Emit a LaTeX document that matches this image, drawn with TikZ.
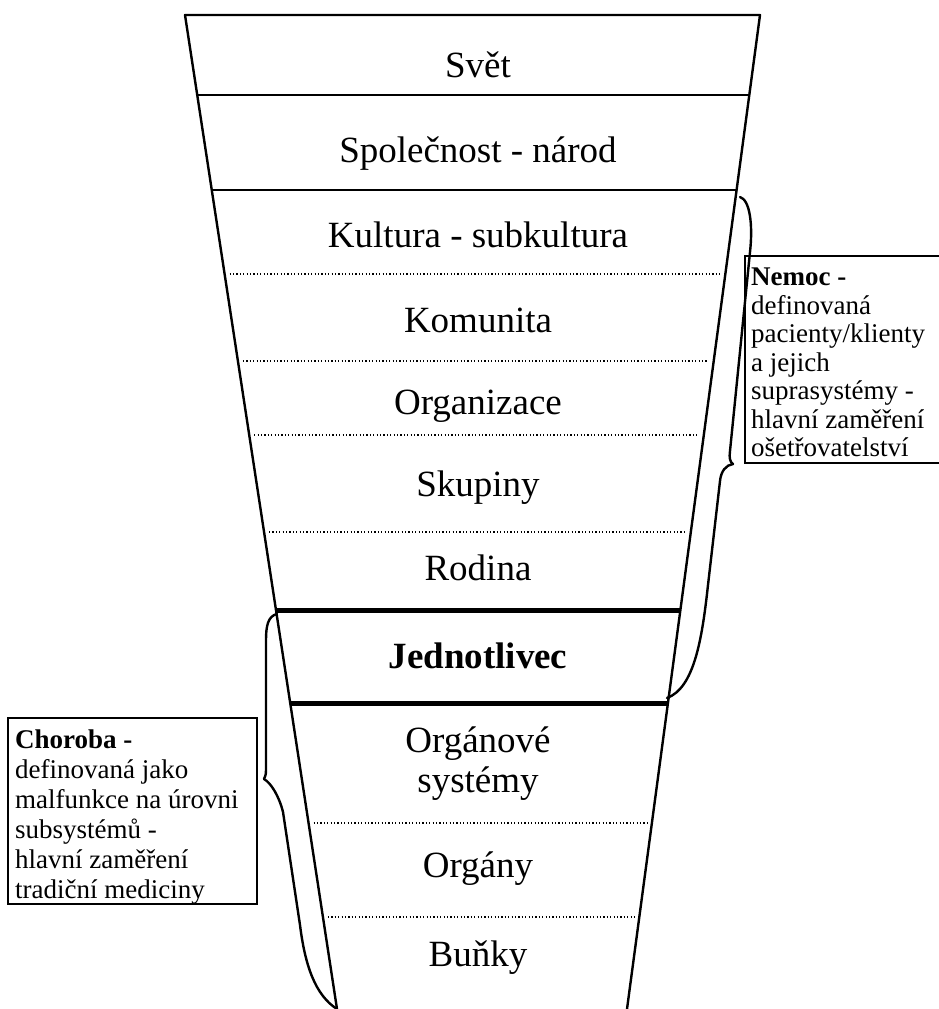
\documentclass[tikz,border=0pt]{standalone}
\usepackage{fontspec}
\setmainfont{Liberation Serif}
\usetikzlibrary{calc}
\begin{document}
\begin{tikzpicture}[x=1pt,y=-1pt,
  edge/.style={line width=2.4pt, line cap=round, line join=round},
  divider/.style={line width=2.4pt},
  heavy/.style={line width=5pt},
  dots/.style={line width=1.3pt, dash pattern=on 1.2pt off 2.2pt, shorten <=5pt, shorten >=5pt},
  lvl/.style={font=\fontsize{37}{40}\selectfont, anchor=base, inner sep=0pt},
  note/.style={align=left, anchor=north west, inner sep=0pt},
  brace/.style={line width=2.4pt, line cap=round, line join=round},
  box/.style={line width=1.5pt}]
\useasboundingbox (0,0) rectangle (939,1009);
\fill[white] (0,0) rectangle (939,1009);
% funnel
\coordinate (TL) at (185,15);
\coordinate (TR) at (760,15);
\coordinate (BL) at (337,1009);
\coordinate (BR) at (627,1009);
\foreach \n/\t in {a/0.0805, b/0.1761, c/0.2606, d/0.3481, e/0.4225, f/0.5201, g/0.5986, h/0.6922, i/0.8129, j/0.9074}{
  \coordinate (L\n) at ($(TL)!\t!(BL)$);
  \coordinate (R\n) at ($(TR)!\t!(BR)$);
}
\draw[edge] (BL) -- (TL) -- (TR) -- (BR);
\draw[divider] (La) -- (Ra);
\draw[divider] (Lb) -- (Rb);
\draw[dots] (Lc) -- (Rc);
\draw[dots] (Ld) -- (Rd);
\draw[dots] (Le) -- (Re);
\draw[dots] (Lf) -- (Rf);
\draw[heavy] (Lg) -- (Rg);
\draw[heavy] (Lh) -- (Rh);
\draw[dots] (Li) -- (Ri);
\draw[dots] (Lj) -- (Rj);
% level labels
\node[lvl] (svet) at (478,77) {Svět};
\node[lvl] (spol) at (478,162) {Společnost - národ};
\node[lvl] (kult) at (478,247) {Kultura - subkultura};
\node[lvl] (komu) at (478,332) {Komunita};
\node[lvl] (orga) at (478,414) {Organizace};
\node[lvl] (skup) at (478,496) {Skupiny};
\node[lvl] (rodi) at (478,580) {Rodina};
\node[lvl] (jedn) at (478,668) {\bfseries Jednotlivec};
\node[lvl] (orgs1) at (478,752) {Orgánové};
\node[lvl] (orgs2) at (478,792) {systémy};
\node[lvl] (orgy) at (478,877) {Orgány};
\node[lvl] (bunk) at (478,966) {Buňky};
% Nemoc box
\draw[box] (939,256) -- (745,256) -- (745,463) -- (939,463);
\node[note, font=\fontsize{27}{28.5}\selectfont] (nemoc) at (751,268)
  {\textbf{Nemoc -}\\definovaná\\pacienty/klienty\\a jejich\\suprasystémy -\\hlavní zaměření\\ošetřovatelství};
% Choroba box
\draw[box] (8,718) rectangle (257,904);
\node[note, font=\fontsize{27}{30}\selectfont] (choroba) at (15,730)
  {\textbf{Choroba -}\\definovaná jako\\malfunkce na úrovni\\subsystémů -\\hlavní zaměření\\tradiční mediciny};
% right brace (Nemoc)
\draw[brace] (740,197) .. controls (750,200) and (753,225) .. (750,252)
  -- (730,451) .. controls (729,458) and (730,462) .. (733,464)
  .. controls (726,465) and (721,471) .. (720,481)
  -- (708,585) .. controls (702,640) and (694,688) .. (667,698);
% left brace (Choroba)
\draw[brace] (277,614) .. controls (268,616) and (266,626) .. (266,640)
  -- (266,770) .. controls (266,775) and (265,777) .. (264,779)
  .. controls (271,783) and (279,796) .. (283,812)
  -- (300,925) .. controls (305,965) and (315,995) .. (337,1009);
\end{tikzpicture}
\end{document}
